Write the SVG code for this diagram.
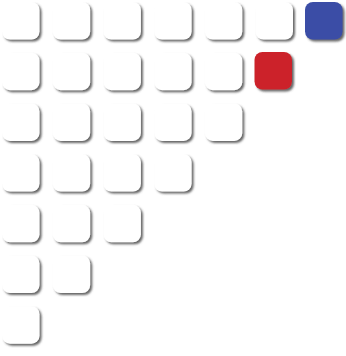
<svg xmlns="http://www.w3.org/2000/svg" width="346" height="356" viewBox="0 0 346 356">
<defs>
<filter id="sh" x="-20%" y="-20%" width="150%" height="150%">
<feDropShadow dx="2" dy="2" stdDeviation="0.8" flood-color="#555" flood-opacity="0.9"/>
</filter>
<style>
.t{fill:#ffffff;filter:url(#sh)}
.b{fill:#3a4ea6;filter:url(#sh)}
.r{fill:#cc2229;filter:url(#sh)}
</style>
<rect id="cell" width="37.5" height="37.5" rx="8" ry="8"/>
</defs>
<rect width="346" height="356" fill="#ffffff"/>
<g id="row0">
<use href="#cell" class="t" x="2" y="2"/>
<use href="#cell" class="t" x="52.7" y="2"/>
<use href="#cell" class="t" x="103.4" y="2"/>
<use href="#cell" class="t" x="154.1" y="2"/>
<use href="#cell" class="t" x="204.8" y="2"/>
<use href="#cell" class="t" x="255.5" y="2"/>
<use id="blue" href="#cell" class="b" x="305" y="2"/>
</g>
<g id="row1">
<use href="#cell" class="t" x="2" y="52.7"/>
<use href="#cell" class="t" x="52.7" y="52.7"/>
<use href="#cell" class="t" x="103.4" y="52.7"/>
<use href="#cell" class="t" x="154.1" y="52.7"/>
<use href="#cell" class="t" x="204.8" y="52.7"/>
<use id="red" href="#cell" class="r" x="254.5" y="52"/>
</g>
<g id="row2">
<use href="#cell" class="t" x="2" y="103.4"/>
<use href="#cell" class="t" x="52.7" y="103.4"/>
<use href="#cell" class="t" x="103.4" y="103.4"/>
<use href="#cell" class="t" x="154.1" y="103.4"/>
<use href="#cell" class="t" x="204.8" y="103.4"/>
</g>
<g id="row3">
<use href="#cell" class="t" x="2" y="154.1"/>
<use href="#cell" class="t" x="52.7" y="154.1"/>
<use href="#cell" class="t" x="103.4" y="154.1"/>
<use href="#cell" class="t" x="154.1" y="154.1"/>
</g>
<g id="row4">
<use href="#cell" class="t" x="2" y="204.8"/>
<use href="#cell" class="t" x="52.7" y="204.8"/>
<use href="#cell" class="t" x="103.4" y="204.8"/>
</g>
<g id="row5">
<use href="#cell" class="t" x="2" y="255.5"/>
<use href="#cell" class="t" x="52.7" y="255.5"/>
</g>
<g id="row6">
<use href="#cell" class="t" x="2" y="306.2"/>
</g>
</svg>
